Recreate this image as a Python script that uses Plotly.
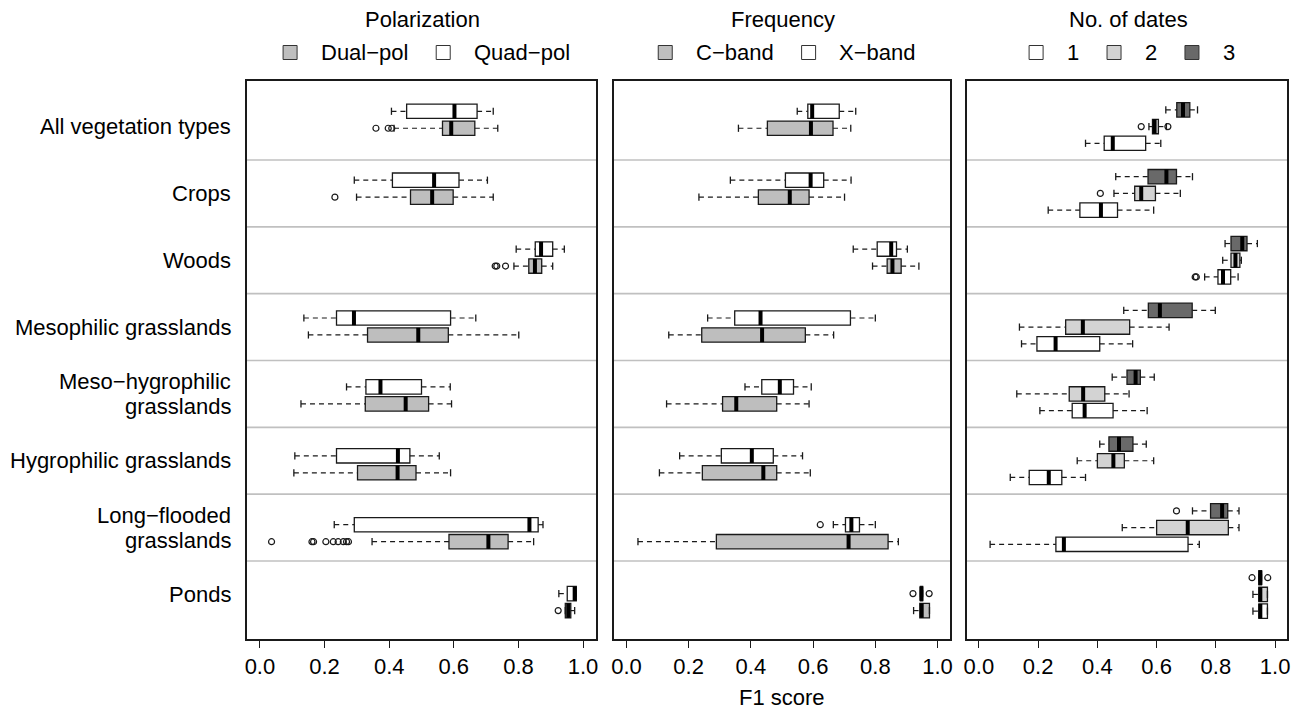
import plotly.graph_objects as go

# ---------------- data ----------------
categories = ["All vegetation types", "Crops", "Woods", "Mesophilic grasslands",
              "Meso\u2212hygrophilic<br>grasslands", "Hygrophilic grasslands",
              "Long\u2212flooded<br>grasslands", "Ponds"]

panel_titles = ["Polarization", "Frequency", "No. of dates"]
tick_vals = [0.0, 0.2, 0.4, 0.6, 0.8, 1.0]
tick_text = ["0.0", "0.2", "0.4", "0.6", "0.8", "1.0"]
x_title = "F1 score"

# Panel 1 - Quad-pol (white)
quad_lw  = [0.407, 0.292, 0.793, 0.136, 0.268, 0.108, 0.230, 0.925]
quad_q1  = [0.454, 0.410, 0.852, 0.237, 0.328, 0.237, 0.292, 0.951]
quad_med = [0.602, 0.539, 0.870, 0.291, 0.373, 0.427, 0.834, 0.974]
quad_q3  = [0.672, 0.616, 0.906, 0.590, 0.500, 0.464, 0.861, 0.979]
quad_uw  = [0.722, 0.704, 0.942, 0.668, 0.589, 0.555, 0.876, 0.979]
quad_out = [[], [], [], [], [], [], [], []]

# Panel 1 - Dual-pol (gray)
dual_lw  = [0.415, 0.299, 0.786, 0.150, 0.127, 0.105, 0.347, 0.945]
dual_q1  = [0.565, 0.466, 0.832, 0.333, 0.326, 0.302, 0.585, 0.945]
dual_med = [0.592, 0.533, 0.851, 0.490, 0.451, 0.426, 0.707, 0.954]
dual_q3  = [0.665, 0.598, 0.872, 0.583, 0.522, 0.483, 0.768, 0.962]
dual_uw  = [0.736, 0.722, 0.906, 0.801, 0.593, 0.590, 0.847, 0.974]
dual_out = [[0.359, 0.397, 0.408], [0.232], [0.728, 0.733, 0.760], [], [], [],
            [0.036, 0.161, 0.166, 0.204, 0.227, 0.242, 0.258, 0.268, 0.274], [0.923]]

# Panel 2 - X-band (white)
xb_lw  = [0.549, 0.334, 0.729, 0.261, 0.381, 0.171, 0.665, 0.945]
xb_q1  = [0.583, 0.511, 0.806, 0.348, 0.435, 0.305, 0.704, 0.945]
xb_med = [0.597, 0.592, 0.851, 0.431, 0.493, 0.403, 0.723, 0.948]
xb_q3  = [0.684, 0.634, 0.868, 0.720, 0.537, 0.472, 0.749, 0.952]
xb_uw  = [0.737, 0.722, 0.903, 0.800, 0.594, 0.566, 0.800, 0.952]
xb_out = [[], [], [], [], [], [], [0.623], [0.921, 0.973]]

# Panel 2 - C-band (gray)
cb_lw  = [0.360, 0.233, 0.791, 0.136, 0.129, 0.106, 0.037, 0.923]
cb_q1  = [0.453, 0.424, 0.838, 0.242, 0.309, 0.244, 0.289, 0.943]
cb_med = [0.593, 0.525, 0.855, 0.436, 0.353, 0.440, 0.714, 0.949]
cb_q3  = [0.664, 0.587, 0.883, 0.575, 0.483, 0.483, 0.841, 0.974]
cb_uw  = [0.721, 0.701, 0.940, 0.666, 0.587, 0.591, 0.874, 0.974]
cb_out = [[], [], [], [], [], [], [], []]

# Panel 3 - 1 date (white)
d1_lw  = [0.360, 0.234, 0.762, 0.144, 0.206, 0.106, 0.038, 0.925]
d1_q1  = [0.423, 0.341, 0.807, 0.196, 0.315, 0.170, 0.260, 0.945]
d1_med = [0.452, 0.412, 0.824, 0.259, 0.357, 0.236, 0.287, 0.950]
d1_q3  = [0.563, 0.468, 0.850, 0.408, 0.453, 0.280, 0.706, 0.974]
d1_uw  = [0.614, 0.590, 0.875, 0.519, 0.568, 0.360, 0.744, 0.974]
d1_out = [[], [], [0.730, 0.734], [], [], [], [], []]

# Panel 3 - 2 dates (light gray)
d2_lw  = [0.574, 0.456, 0.823, 0.137, 0.128, 0.332, 0.484, 0.925]
d2_q1  = [0.586, 0.526, 0.851, 0.293, 0.305, 0.400, 0.600, 0.945]
d2_med = [0.593, 0.548, 0.866, 0.351, 0.352, 0.454, 0.705, 0.950]
d2_q3  = [0.606, 0.596, 0.881, 0.509, 0.425, 0.491, 0.842, 0.974]
d2_uw  = [0.633, 0.680, 0.886, 0.642, 0.507, 0.590, 0.878, 0.974]
d2_out = [[0.548, 0.638], [0.410], [], [], [], [], [], []]

# Panel 3 - 3 dates (dark gray)
d3_lw  = [0.631, 0.462, 0.831, 0.489, 0.450, 0.408, 0.721, 0.945]
d3_q1  = [0.668, 0.571, 0.851, 0.572, 0.500, 0.439, 0.782, 0.945]
d3_med = [0.689, 0.633, 0.889, 0.611, 0.529, 0.473, 0.821, 0.950]
d3_q3  = [0.712, 0.667, 0.905, 0.720, 0.545, 0.520, 0.840, 0.954]
d3_uw  = [0.738, 0.721, 0.940, 0.798, 0.592, 0.565, 0.878, 0.954]
d3_out = [[], [], [], [], [], [], [0.667], [0.922, 0.975]]

legend_labels = [["Dual\u2212pol", "Quad\u2212pol"], ["C\u2212band", "X\u2212band"], ["1", "2", "3"]]

# ---------------- styles / layout ----------------
W, H = 1303, 713
ML, MR, MT, MB = 247, 16, 81, 74
PW = W - ML - MR
PH = H - MT - MB
FONT = "Liberation Sans, Arial, sans-serif"
FS = 22
EDGE = "#1a1a1a"
GRAY = "#bebebe"
LIGHT = "#d3d3d3"
DARK = "#696969"
WHITE = "#ffffff"
BOXW = 0.215


def pxx(px):
    return (px - ML) / PW


def pxy(py):
    return (H - MB - py) / PH


panel_px = [(247, 596), (614, 950), (967, 1287)]
n = len(categories)
centers = [i + 1 for i in range(n)]
pair_mid = [0.898 + i * 1.031 for i in range(n)]

fig = go.Figure()


def add_series(k, pos, lw, q1, med, q3, uw, outl, fill):
    xa = "x" if k == 0 else f"x{k+1}"
    ya = "y" if k == 0 else f"y{k+1}"
    # dashed whiskers
    wx, wy = [], []
    for p, a, b, c, d in zip(pos, lw, q1, q3, uw):
        wx += [a, b, None, c, d, None]
        wy += [p, p, None, p, p, None]
    fig.add_trace(go.Scatter(x=wx, y=wy, mode="lines", xaxis=xa, yaxis=ya,
                             line=dict(color=EDGE, width=1.2, dash="5px,4px"),
                             showlegend=False, hoverinfo="skip"))
    # boxes
    fig.add_trace(go.Box(orientation="h", y=pos, q1=q1, median=med, q3=q3,
                         lowerfence=q1, upperfence=q3, width=BOXW,
                         fillcolor=fill, line=dict(color=EDGE, width=1.3),
                         whiskerwidth=0, boxpoints=False, xaxis=xa, yaxis=ya,
                         showlegend=False, hoverinfo="skip"))
    # staples
    sx, sy = [], []
    for p, a, d in zip(pos, lw, uw):
        for v in (a, d):
            sx += [v, v, None]
            sy += [p - BOXW / 4, p + BOXW / 4, None]
    fig.add_trace(go.Scatter(x=sx, y=sy, mode="lines", xaxis=xa, yaxis=ya,
                             line=dict(color=EDGE, width=1.3),
                             showlegend=False, hoverinfo="skip"))
    # thick medians
    mx, my = [], []
    for p, m in zip(pos, med):
        mx += [m, m, None]
        my += [p - BOXW / 2, p + BOXW / 2, None]
    fig.add_trace(go.Scatter(x=mx, y=my, mode="lines", xaxis=xa, yaxis=ya,
                             line=dict(color="#000000", width=4),
                             showlegend=False, hoverinfo="skip"))
    # outliers
    ox, oy = [], []
    for p, o in zip(pos, outl):
        ox += o
        oy += [p] * len(o)
    if ox:
        fig.add_trace(go.Scatter(x=ox, y=oy, mode="markers", xaxis=xa, yaxis=ya,
                                 marker=dict(symbol="circle-open", size=6, color=EDGE,
                                             line=dict(width=1.2, color=EDGE)),
                                 showlegend=False, hoverinfo="skip"))


pos_top = [m - 0.127 for m in pair_mid]
pos_bot = [m + 0.127 for m in pair_mid]
add_series(0, pos_top, quad_lw, quad_q1, quad_med, quad_q3, quad_uw, quad_out, WHITE)
add_series(0, pos_bot, dual_lw, dual_q1, dual_med, dual_q3, dual_uw, dual_out, GRAY)
add_series(1, pos_top, xb_lw, xb_q1, xb_med, xb_q3, xb_uw, xb_out, WHITE)
add_series(1, pos_bot, cb_lw, cb_q1, cb_med, cb_q3, cb_uw, cb_out, GRAY)
add_series(2, [c - 0.25 for c in centers], d3_lw, d3_q1, d3_med, d3_q3, d3_uw, d3_out, DARK)
add_series(2, centers, d2_lw, d2_q1, d2_med, d2_q3, d2_uw, d2_out, LIGHT)
add_series(2, [c + 0.25 for c in centers], d1_lw, d1_q1, d1_med, d1_q3, d1_uw, d1_out, WHITE)

layout = dict(width=W, height=H, margin=dict(l=ML, r=MR, t=MT, b=MB),
              paper_bgcolor="white", plot_bgcolor="white", boxmode="overlay",
              font=dict(family=FONT, size=FS, color="#000000"), showlegend=False)
shapes = []
annotations = []
for k, (a, b) in enumerate(panel_px):
    sfx = "" if k == 0 else str(k + 1)
    layout["xaxis" + sfx] = dict(domain=[pxx(a), pxx(b)], range=[-0.04, 1.04],
                                 anchor="y" + sfx, tickvals=tick_vals, ticktext=tick_text,
                                 ticks="outside", ticklen=7, tickwidth=1.3, tickcolor=EDGE,
                                 showgrid=False, zeroline=False, showline=True, mirror=True,
                                 linecolor=EDGE, linewidth=1.5,
                                 tickfont=dict(family=FONT, size=FS, color="#000000"))
    layout["yaxis" + sfx] = dict(range=[8.667, 0.318], anchor="x" + sfx,
                                 showticklabels=False, ticks="", showgrid=False,
                                 zeroline=False, showline=True, mirror=True,
                                 linecolor=EDGE, linewidth=1.5)
    for j in range(n - 1):
        shapes.append(dict(type="line", xref=f"x{sfx} domain", x0=0, x1=1,
                           yref="y" + sfx, y0=j + 1.5, y1=j + 1.5,
                           line=dict(color="#c0c0c0", width=1.6), layer="below"))
    annotations.append(dict(text=panel_titles[k], xref="paper", yref="paper",
                            x=pxx((a + b) / 2 + 1), y=pxy(19.5), showarrow=False,
                            xanchor="center", yanchor="middle",
                            font=dict(family=FONT, size=FS, color="#000000")))

# y category labels
for i, lab in enumerate(categories):
    lines = lab.split("<br>")
    for li, t in enumerate(lines):
        shift = 0 if len(lines) == 1 else (12.5 if li == 0 else -12.5)
        annotations.append(dict(text=t, xref="paper", yref="y", x=pxx(232.5),
                                y=centers[i], yshift=shift, showarrow=False,
                                xanchor="right", yanchor="middle",
                                font=dict(family=FONT, size=FS, color="#000000")))

# x-axis title
annotations.append(dict(text=x_title, xref="paper", yref="paper", x=pxx(782), y=pxy(697),
                        showarrow=False, xanchor="center", yanchor="middle",
                        font=dict(family=FONT, size=FS, color="#000000")))

# legends (squares + text), laid out like R's horizontal legend
legend_fills = [[GRAY, WHITE], [GRAY, WHITE], [WHITE, LIGHT, DARK]]
char_w = {"D": .722, "u": .556, "a": .556, "l": .222, "\u2212": .584, "p": .556, "o": .556,
          "Q": .778, "d": .556, "C": .722, "b": .556, "n": .556, "X": .667,
          "1": .556, "2": .556, "3": .556}
SQ, GAP_T, GAP_N = 14, 35.7, 30
for k, (a, b) in enumerate(panel_px):
    widths = [sum(char_w.get(c, .556) for c in t) * FS for t in legend_labels[k]]
    total = sum(GAP_T + w for w in widths) + GAP_N * (len(widths) - 1)
    x = (a + b) / 2 + 4 - total / 2
    for t, w, f in zip(legend_labels[k], widths, legend_fills[k]):
        shapes.append(dict(type="rect", xref="paper", yref="paper",
                           x0=pxx(x), x1=pxx(x + SQ), y0=pxy(59.5), y1=pxy(45.5),
                           fillcolor=f, line=dict(color="#333333", width=1)))
        annotations.append(dict(text=t, xref="paper", yref="paper", x=pxx(x + GAP_T),
                                y=pxy(52.5), showarrow=False, xanchor="left",
                                yanchor="middle",
                                font=dict(family=FONT, size=FS, color="#000000")))
        x += GAP_T + w + GAP_N

layout["shapes"] = shapes
layout["annotations"] = annotations
fig.update_layout(**layout)
fig.write_html("out.html", config={"displayModeBar": False},
               post_script="document.body.style.margin='0px';"
                           "document.body.style.overflow='hidden';")
